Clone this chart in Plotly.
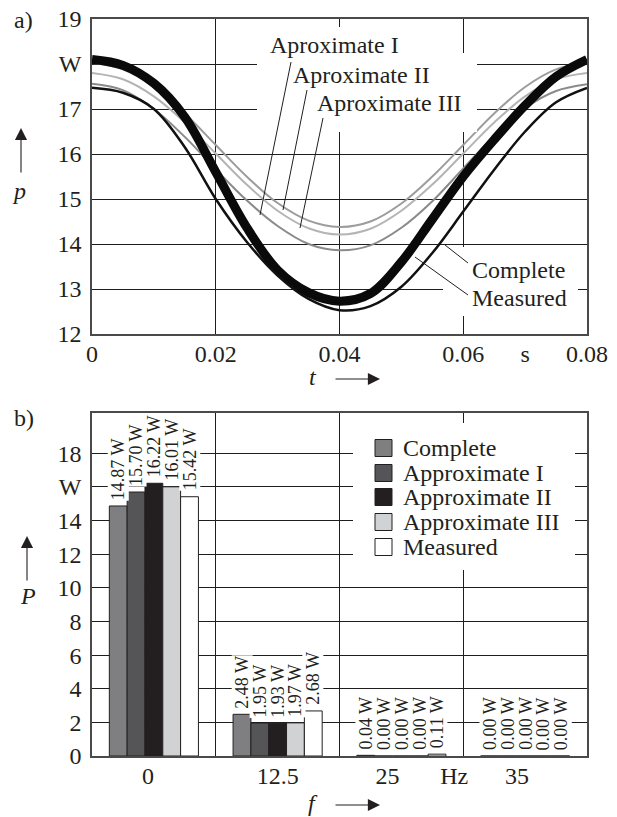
import plotly.graph_objects as go

# ---------------- data: panel a) ----------------
t = [0.0, 0.005, 0.01, 0.015, 0.02, 0.025, 0.03, 0.035, 0.04,
     0.045, 0.05, 0.055, 0.06, 0.065, 0.07, 0.075, 0.08]
p_measured = [18.10, 17.97, 17.57, 16.82, 15.60, 14.37, 13.42, 12.92, 12.73,
              12.90, 13.60, 14.55, 15.50, 16.32, 17.08, 17.72, 18.10]
p_complete = [17.47, 17.36, 17.00, 16.15, 15.00, 14.05, 13.30, 12.78, 12.53,
              12.62, 13.05, 13.80, 14.72, 15.65, 16.50, 17.15, 17.47]
p_approx1 = [17.56, 17.42, 17.00, 16.38, 15.66, 14.97, 14.40, 14.00, 13.86,
             13.97, 14.36, 14.95, 15.68, 16.40, 17.02, 17.40, 17.55]
p_approx2 = [18.02, 17.88, 17.49, 16.90, 16.20, 15.50, 14.91, 14.52, 14.38,
             14.50, 14.90, 15.50, 16.20, 16.90, 17.49, 17.88, 18.02]
p_approx3 = [17.80, 17.66, 17.28, 16.70, 16.01, 15.32, 14.74, 14.35, 14.21,
             14.34, 14.74, 15.32, 16.01, 16.70, 17.28, 17.66, 17.80]

top_xtick_vals = [0, 0.02, 0.04, 0.06, 0.07, 0.08]
top_xtick_text = ["0", "0.02", "0.04", "0.06", "s", "0.08"]
top_ytick_vals = [12, 13, 14, 15, 16, 17, 18, 19]
top_ytick_text = ["12", "13", "14", "15", "16", "17", "W", "19"]

# ---------------- data: panel b) ----------------
bar_groups = [0, 1, 2, 3]                       # 0, 12.5, 25, 35 Hz
bar_tick_pos = [-0.048, 1.0, 1.887, 2.427, 2.935]
bar_tick_text = ["0", "12.5", "25", "Hz", "35"]
series_names = ["Complete", "Approximate I", "Approximate II", "Approximate III", "Measured"]
P_complete = [14.87, 2.48, 0.04, 0.00]
P_approx1 = [15.70, 1.95, 0.00, 0.00]
P_approx2 = [16.22, 1.93, 0.00, 0.00]
P_approx3 = [16.01, 1.97, 0.00, 0.00]
P_measured = [15.42, 2.68, 0.11, 0.00]
series_values = [P_complete, P_approx1, P_approx2, P_approx3, P_measured]
series_colors = ["#7f7f82", "#555558", "#231f20", "#d1d2d4", "#ffffff"]
bot_ytick_vals = [0, 2, 4, 6, 8, 10, 12, 14, 16, 18]
bot_ytick_text = ["0", "2", "4", "6", "8", "10", "12", "14", "W", "18"]

# ---------------- layout helpers ----------------
W, H = 617, 817
L, R, T, B = 92, 30, 19, 61
PW, PH = W - L - R, H - T - B
TOP_Y0, BOT_Y1 = 334, 413          # pixel rows of top-plot bottom and bottom-plot top


def px(x):
    return (x - L) / PW


def py(y):
    return (H - B - y) / PH


FONT = "Liberation Serif, Times New Roman, serif"
INK = "#231f20"
GRID = "#1e1e1e"
FRAME = "#4a4a4a"

fig = go.Figure()

# top curves
approx_style = [("Aproximate I", p_approx1, "#8a8a8a"),
                ("Aproximate II", p_approx2, "#9c9c9c"),
                ("Aproximate III", p_approx3, "#b4b4b4")]
for name, vals, col in approx_style:
    fig.add_trace(go.Scatter(x=t, y=vals, mode="lines", name=name,
                             line=dict(color=col, width=2, shape="spline"),
                             showlegend=False, xaxis="x", yaxis="y"))
fig.add_trace(go.Scatter(x=t, y=p_measured, mode="lines", name="Measured",
                         line=dict(color="#0a0a0a", width=9, shape="spline"),
                         showlegend=False, xaxis="x", yaxis="y"))
fig.add_trace(go.Scatter(x=t, y=p_complete, mode="lines", name="Complete",
                         line=dict(color="#111111", width=2.5, shape="spline"),
                         showlegend=False, xaxis="x", yaxis="y"))

# bars
for name, vals, col in zip(series_names, series_values, series_colors):
    fig.add_trace(go.Bar(x=bar_groups, y=vals, name=name,
                         marker=dict(color=col, line=dict(color=INK, width=1)),
                         showlegend=False, xaxis="x2", yaxis="y2"))

bargap = 0.28
bw = (1 - bargap) / len(series_names)

annotations = []
# bar value labels
for j, vals in enumerate(series_values):
    for i, v in zip(bar_groups, vals):
        annotations.append(dict(
            x=i + (j - (len(series_names) - 1) / 2) * bw, y=v, xref="x2", yref="y2",
            text=f"{v:.2f} W", textangle=-90, showarrow=False,
            xanchor="center", yanchor="bottom", yshift=5,
            bgcolor="white", borderpad=0,
            font=dict(family=FONT, size=18, color=INK)))


def txt(x, y, s, size=24, xanchor="left", italic=False):
    annotations.append(dict(x=px(x), y=py(y), xref="paper", yref="paper",
                            text=f"<i>{s}</i>" if italic else s, showarrow=False,
                            xanchor=xanchor, yanchor="middle",
                            font=dict(family=FONT, size=size, color=INK)))


def arrow(hx, hy, tx, ty):
    annotations.append(dict(x=px(hx), y=py(hy), xref="paper", yref="paper",
                            ax=tx - hx, ay=ty - hy, text="", showarrow=True,
                            arrowhead=2, arrowsize=2.2, arrowwidth=1.1,
                            arrowcolor=INK, standoff=0))


txt(12, 20, "a)")
txt(12, 418, "b)")
txt(19, 191, "p", xanchor="center", italic=True)
arrow(21, 128, 21, 174)
txt(313, 377, "t", xanchor="center", italic=True)
arrow(380, 379, 334, 379)
txt(28, 596, "P", xanchor="center", italic=True)
arrow(27, 536, 27, 582)
txt(313, 803, "f", xanchor="center", italic=True)
arrow(380, 805, 334, 805)

txt(268, 45, "Aproximate I")
txt(291, 75, "Aproximate II")
txt(315, 103, "Aproximate III")
txt(470, 270, "Complete")
txt(470, 298, "Measured")

legend_rows = [448, 473, 497, 522, 547]
for name, cy in zip(series_names, legend_rows):
    txt(401, cy, name)

shapes = []
# white masks over gridlines behind the text blocks
for (x0, y0, x1, y1) in [(257, 53, 477, 132), (265, 27, 455, 53),
                         (443, 247, 578, 316), (353, 423, 575, 570)]:
    shapes.append(dict(type="rect", xref="paper", yref="paper", layer="above",
                       x0=px(x0), x1=px(x1), y0=py(y1), y1=py(y0),
                       fillcolor="white", line=dict(width=0)))

# leader lines
for (x0, y0, x1, y1) in [(291, 62, 260, 215), (307, 90, 283, 210), (323, 118, 300, 228),
                         (468, 263, 445, 245), (468, 295, 415, 257)]:
    shapes.append(dict(type="line", xref="paper", yref="paper", layer="above",
                       x0=px(x0), y0=py(y0), x1=px(x1), y1=py(y1),
                       line=dict(color=INK, width=1)))

# legend swatches
for col, cy in zip(series_colors, legend_rows):
    shapes.append(dict(type="rect", xref="paper", yref="paper", layer="above",
                       x0=px(375), x1=px(392), y0=py(cy + 8.5), y1=py(cy - 8.5),
                       fillcolor=col, line=dict(color=INK, width=1)))

axis_common = dict(showline=True, mirror=True, linecolor=FRAME, linewidth=1.5,
                   ticks="", ticklen=0, zeroline=False, automargin=False,
                   tickfont=dict(family=FONT, size=24, color=INK))

fig.update_layout(
    width=W, height=H,
    margin=dict(l=L, r=R, t=T, b=B, pad=0, autoexpand=False),
    paper_bgcolor="white", plot_bgcolor="white",
    barmode="group", bargap=bargap, bargroupgap=0,
    showlegend=False,
    xaxis=dict(domain=[0, 1], anchor="y", range=[0, 0.08],
               tickvals=top_xtick_vals, ticktext=top_xtick_text, showgrid=False,
               minor=dict(tickvals=[0.02, 0.04, 0.06], showgrid=True,
                          gridcolor=GRID, gridwidth=1, ticks=""),
               ticklabelstandoff=-3, **axis_common),
    yaxis=dict(domain=[py(TOP_Y0), 1], anchor="x", range=[12, 19],
               tickvals=top_ytick_vals, ticktext=top_ytick_text,
               showgrid=True, gridcolor=GRID, gridwidth=1,
               ticklabelstandoff=4, **axis_common),
    xaxis2=dict(domain=[0, 1], anchor="y2", range=[-0.5, 3.5],
                tickvals=bar_tick_pos, ticktext=bar_tick_text, showgrid=False,
                minor=dict(tickvals=[0.5, 1.5, 2.5], showgrid=True,
                           gridcolor=GRID, gridwidth=1, ticks=""),
                ticklabelstandoff=-3, **axis_common),
    yaxis2=dict(domain=[0, py(BOT_Y1)], anchor="x2", range=[0, 20.4],
                tickvals=bot_ytick_vals, ticktext=bot_ytick_text,
                showgrid=True, gridcolor=GRID, gridwidth=1,
                ticklabelstandoff=4, **axis_common),
    annotations=annotations,
    shapes=shapes,
)

fig.write_html("out.html")
